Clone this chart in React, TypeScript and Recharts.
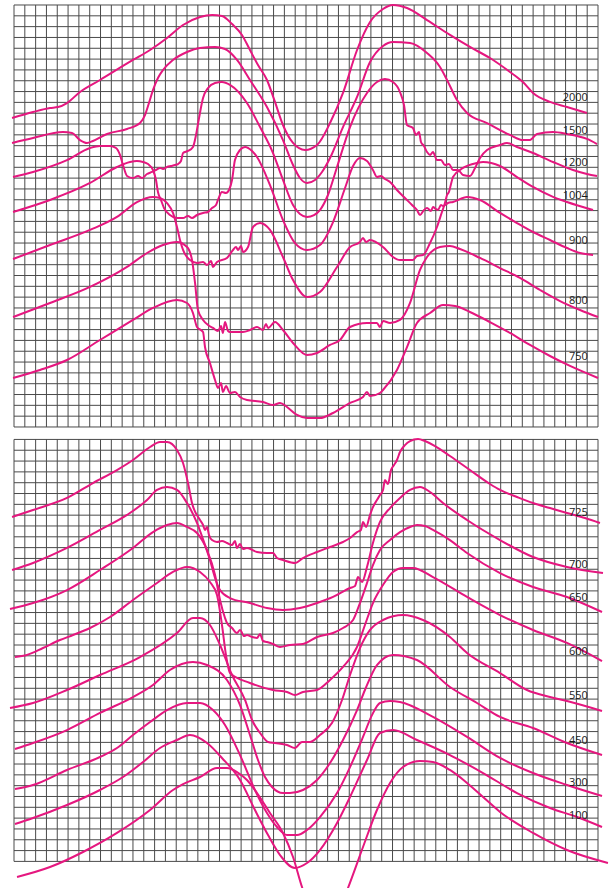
import { LineChart, Line, XAxis, YAxis, ReferenceLine, ReferenceDot } from 'recharts';

// All values are in grid units: x = columns from the left edge of the grid,
// y = rows from the top edge of the upper panel (axis reversed).
type Pt = [number, number];

const c2000: Pt[] = [[-0.18,10.44],[1.76,9.89],[3.33,9.52],[4.07,9.43],[4.9,9.06],[6.1,8.04],[7.95,6.93],[11,5.08],[12.58,4.16],[14.15,3.05],[15.63,1.85],[17.2,1.11],[18.31,0.92],[19.23,1.02],[20.16,1.76],[21.08,2.77],[21.82,4.16],[22.56,5.55],[23.39,6.93],[24.13,8.96],[24.87,11.09],[25.8,12.75],[26.91,13.4],[28.02,12.94],[29.22,10.91],[30.42,8.13],[31.72,4.16],[32.92,1.57],[34.12,0.37],[35.04,0],[36.34,0.28],[38.19,1.39],[40.31,2.77],[42.16,3.88],[44.01,4.9],[45.86,6.19],[47.06,7.12],[47.99,8.13],[49.56,8.96],[51.13,9.43],[52.98,9.98]];

const c1500: Pt[] = [[-0.18,12.75],[1.76,12.29],[4.53,11.74],[5.36,11.83],[6.1,12.48],[6.75,12.75],[7.3,12.57],[8.6,11.92],[10.45,11.46],[11.65,10.91],[12.11,10.17],[12.48,9.06],[12.85,7.86],[13.31,6.75],[13.78,6.01],[14.7,5.08],[16,4.34],[17.2,3.97],[18.59,3.88],[19.51,4.07],[20.62,5.08],[21.82,6.93],[23.39,9.43],[24.87,12.48],[25.8,14.79],[26.44,15.99],[27.09,16.45],[27.83,16.17],[28.48,15.43],[29.22,14.14],[30.42,11.28],[31.72,8.5],[32.92,5.27],[34.12,3.79],[35.04,3.42],[36.62,3.51],[38.19,4.44],[39.39,5.73],[40.04,6.93],[40.96,8.78],[41.89,9.98],[43.74,10.91],[45.86,12.01],[47.06,12.48],[47.71,12.48],[48.36,11.92],[49.84,11.74],[51.13,11.92],[52.98,12.38],[53.91,12.85]];

const c1200: Pt[] = [[-0.09,15.9],[1.76,15.43],[4.9,14.33],[7.03,13.22],[7.95,13.03],[8.88,13.03],[9.43,13.22],[9.8,13.86],[10.08,14.79],[10.45,15.8],[11,15.99],[11.47,15.8],[11.84,15.99],[12.3,15.62],[12.76,15.43],[13.13,15.25],[13.5,15.06],[13.78,15.16],[14.15,14.97],[14.52,14.88],[14.89,14.79],[15.16,14.7],[15.44,14.42],[15.63,13.68],[16.09,13.49],[16.55,13.12],[16.83,12.01],[17.11,10.44],[17.48,8.6],[17.94,7.67],[18.59,7.21],[19.23,7.12],[19.97,7.39],[21.54,9.06],[22.75,11.28],[23.95,13.68],[24.87,16.17],[25.8,18.48],[26.44,19.32],[27.09,19.59],[27.74,19.41],[28.29,18.95],[29.03,17.56],[29.87,14.97],[31.07,11.28],[32.64,8.13],[33.56,7.12],[34.3,6.84],[35.04,7.12],[35.69,8.04],[36.06,9.24],[36.34,11.09],[36.89,11.37],[37.17,12.01],[37.45,11.74],[37.63,12.66],[37.91,13.03],[38.19,13.59],[38.47,13.86],[38.74,13.59],[39.11,14.33],[39.48,14.33],[39.85,14.79],[40.22,14.7],[40.59,15.25],[41.05,15.25],[41.52,15.71],[42.16,15.8],[42.63,15.06],[43.09,14.14],[43.74,13.4],[44.94,12.94],[45.58,12.75],[46.51,13.12],[47.99,13.68],[49.84,14.51],[51.69,15.25],[52.98,15.62],[53.91,15.8]];

const c1004: Pt[] = [[-0.09,19.13],[3.33,18.02],[7.03,16.45],[9.52,14.97],[10.73,14.51],[11.37,14.42],[11.93,14.51],[12.39,14.7],[12.85,15.25],[13.13,16.17],[13.31,17.28],[13.59,18.02],[13.87,18.76],[14.42,19.41],[15.07,19.69],[15.63,19.69],[16.09,19.5],[16.46,19.69],[16.92,19.41],[17.48,19.22],[17.94,19.13],[18.31,18.76],[18.68,18.48],[18.86,18.02],[19.23,17.28],[19.6,17.38],[19.88,17.1],[20.16,16.17],[20.43,14.33],[20.9,13.4],[21.36,13.12],[22.01,13.49],[22.47,14.05],[23.67,16.64],[24.87,19.87],[25.98,22],[27.09,22.64],[28.29,22.18],[29.5,20.06],[30.61,16.91],[31.35,14.88],[31.99,14.14],[32.64,14.42],[33.19,15.25],[33.56,15.9],[33.93,15.8],[34.3,16.08],[34.77,16.36],[35.41,17.1],[36.15,17.84],[36.8,18.48],[37.26,18.95],[37.54,19.41],[37.91,18.95],[38.19,18.76],[38.56,19.04],[38.74,18.67],[39.02,18.86],[39.2,18.95],[39.48,18.48],[39.67,18.58],[40.13,18.3],[40.59,18.21],[41.89,17.74],[43.09,18.02],[44.94,19.22],[46.51,20.15],[47.99,20.98],[49.56,21.72],[51.13,22.46],[52.34,22.92],[53.54,23.11]];

const c900: Pt[] = [[-0.09,23.48],[3.33,22.18],[7.03,20.79],[9.52,19.59],[11.37,18.21],[12.85,17.74],[13.5,17.84],[14.15,18.3],[14.7,19.22],[15.07,20.52],[15.35,21.72],[15.63,22.64],[16.27,23.57],[16.92,23.84],[17.48,23.75],[17.85,24.03],[18.22,23.66],[18.4,24.21],[18.77,23.75],[19.69,23.38],[20.25,22.64],[20.53,22.37],[20.71,22.64],[20.99,22.27],[21.17,22.83],[21.64,22.37],[22.1,20.52],[22.75,20.15],[23.67,20.79],[24.87,23.29],[25.8,25.42],[27.09,26.99],[28.29,26.52],[29.87,24.21],[31.07,22.37],[31.99,21.9],[32.27,21.53],[32.55,21.9],[32.92,21.72],[34.12,22.37],[35.04,23.29],[35.69,23.57],[36.89,23.57],[37.26,23.2],[37.82,23.11],[38.47,22],[39.11,20.52],[39.57,19.13],[39.85,18.3],[40.04,17.56],[40.22,17.28],[40.41,16.54],[40.59,15.9],[41.52,15.06],[42.81,14.6],[43.37,14.51],[44.94,14.88],[46.51,15.9],[47.99,16.82],[49.84,17.74],[51.13,18.21],[53.54,18.95]];

const c800: Pt[] = [[-0.09,28.84],[3.33,27.54],[7.03,26.06],[10.45,24.21],[12.3,22.92],[13.78,22.18],[15.07,21.9],[16,22.37],[16.46,23.57],[16.74,25.69],[17.01,28.19],[17.48,29.11],[17.94,29.57],[18.4,29.85],[18.86,30.13],[19.14,29.67],[19.32,30.31],[19.51,29.3],[19.79,30.13],[19.97,30.22],[21.17,30.22],[21.82,30.04],[22.47,29.76],[23.02,30.04],[23.3,29.48],[23.49,29.85],[24.13,29.3],[24.87,30.04],[25.8,31.24],[27.09,32.35],[28.02,32.16],[29.22,31.42],[30.14,30.96],[31.07,29.76],[32.64,29.39],[33.56,29.39],[33.84,29.76],[34.12,29.2],[34.77,29.39],[35.69,29.11],[36.62,27.54],[37.54,24.49],[38.19,23.29],[39.39,22.37],[40.31,22.27],[41.24,22.55],[43.09,23.38],[44.94,24.31],[46.79,25.23],[48.64,26.34],[50.49,27.36],[52.34,28.19],[54,28.84]];

const c750: Pt[] = [[-0.09,34.47],[2.4,33.73],[4.9,32.81],[7.95,30.96],[11,29.11],[12.85,28],[15.07,27.26],[16,27.54],[16.55,28.47],[16.92,29.76],[17.48,30.22],[17.66,31.61],[18.12,33.09],[18.59,34.66],[18.86,35.4],[19.14,34.94],[19.32,35.77],[19.6,35.21],[19.97,35.86],[20.43,35.77],[20.9,36.23],[21.54,36.51],[23.02,36.69],[23.95,36.97],[24.6,36.78],[25.24,37.15],[26.17,37.89],[27.09,38.17],[28.29,38.17],[29.5,37.71],[31.07,36.78],[32.27,36.23],[32.64,35.77],[32.92,36.14],[33.84,35.86],[34.12,35.58],[35.41,33.73],[36.34,31.61],[37.26,29.39],[38.47,28.47],[39.67,27.73],[40.78,27.82],[42.16,28.37],[44.01,29.3],[45.86,30.31],[47.71,31.42],[49.56,32.44],[51.41,33.36],[54,34.47]];

const c725: Pt[] = [[-0.18,47.32],[1.76,46.67],[4.9,45.56],[7.3,44.18],[9.52,42.98],[11,42.05],[12.58,40.85],[13.5,40.39],[14.15,40.39],[15.07,41.13],[15.63,42.33],[16.09,44.18],[16.46,46.03],[17.2,47.6],[17.48,48.06],[17.66,48.52],[17.85,48.24],[18.03,48.98],[18.31,49.45],[18.77,49.63],[19.23,49.54],[19.69,49.72],[20.16,49.91],[20.43,49.54],[20.62,50.18],[20.9,49.82],[21.17,50.28],[21.54,50.18],[22.47,50.55],[23.39,50.65],[23.95,50.65],[24.32,51.11],[24.87,51.29],[25.98,51.57],[26.72,51.11],[28.02,50.55],[29.22,50.09],[30.42,49.63],[31.07,49.26],[31.72,48.71],[32.08,48.52],[32.27,47.78],[32.55,48.24],[32.92,47.13],[33.19,46.4],[33.56,45.75],[33.84,45.29],[34.12,44.82],[34.3,43.9],[34.58,44.27],[34.86,42.98],[35.14,42.51],[35.41,42.05],[35.69,41.31],[36.15,40.67],[36.62,40.3],[37.36,40.11],[38,40.3],[38.93,40.76],[40.31,41.68],[42.16,42.98],[44.01,44.27],[44.94,44.82],[46.51,45.47],[47.99,46.03],[49.56,46.49],[51.13,46.95],[52.8,47.41],[54.18,47.87]];

const c700: Pt[] = [[-0.18,52.22],[1.76,51.57],[4.9,50.18],[7.95,48.52],[10.45,47.13],[12.3,45.75],[13.22,44.82],[14.15,44.55],[15.07,44.82],[16,46.03],[16.92,47.87],[17.66,49.91],[18.12,51.29],[18.59,52.96],[19.05,54.07],[19.97,54.81],[21.82,55.27],[23.39,55.73],[24.87,55.91],[26.44,55.73],[28.02,55.27],[29.5,54.71],[31.07,53.88],[31.53,53.7],[31.81,52.87],[32.18,53.33],[32.64,51.94],[33.19,49.72],[33.84,47.78],[34.77,46.49],[35.69,45.56],[36.62,44.82],[37.54,44.55],[38.47,45.01],[39.67,46.03],[41.89,47.6],[44.94,49.45],[47.99,51.02],[51.13,51.94],[54.46,52.5]];

const c650: Pt[] = [[-0.37,55.82],[1.76,55.27],[4.9,54.07],[7.95,52.22],[11,50.18],[12.85,48.71],[14.15,48.06],[15.07,47.87],[16,48.24],[16.92,48.8],[17.85,50.37],[18.59,52.68],[19.05,54.99],[19.51,56.65],[19.69,57.12],[20.16,57.58],[20.62,58.04],[20.9,57.76],[21.27,58.32],[21.54,58.23],[22.01,58.41],[22.47,58.5],[22.75,58.13],[23.02,58.78],[23.39,58.87],[23.95,59.06],[24.6,59.33],[25.52,59.15],[26.72,59.06],[28.02,58.41],[29.5,58.04],[30.42,57.58],[31.35,56.84],[31.99,55.27],[32.64,53.42],[33.19,51.76],[33.84,50.37],[34.77,49.45],[35.69,48.71],[36.62,48.24],[37.26,48.06],[38,48.15],[38.74,48.52],[40.31,49.45],[41.89,50.65],[44.94,52.5],[47.99,53.79],[51.13,54.71],[54.37,56.1]];

const c600: Pt[] = [[0.09,60.26],[1.2,60.07],[2.68,59.43],[4.25,58.69],[5.46,58.23],[7.03,57.58],[8.88,56.56],[11,54.99],[13.22,53.42],[14.7,52.4],[16,51.94],[17.2,52.4],[18.12,53.33],[18.77,54.53],[19.23,57.3],[19.6,60.07],[19.97,61.74],[21.82,62.66],[23.95,63.31],[25.24,63.49],[25.98,63.77],[26.72,63.49],[28.02,63.31],[29.22,62.38],[30.42,61.18],[31.72,59.33],[32.45,57.3],[33.19,55.27],[34.12,53.6],[35.04,52.4],[35.97,52.03],[36.89,52.03],[38.74,52.87],[41.89,54.71],[44.94,56.38],[47.99,57.76],[51.13,58.96],[54.37,60.63]];

const c550: Pt[] = [[-0.37,64.97],[1.76,64.51],[4.9,63.31],[7.95,61.92],[11.65,60.26],[15.07,58.04],[16.55,56.65],[17.2,56.65],[18.12,57.3],[19.05,59.15],[20.16,61.92],[21.36,64.23],[22.01,66.08],[22.75,67.28],[23.49,68.11],[24.13,68.21],[25.24,68.39],[25.98,68.67],[26.63,68.11],[27.37,68.11],[28.29,67.47],[29.4,66.36],[30.33,64.23],[31.07,61.92],[31.99,59.43],[32.92,57.76],[34.12,56.84],[35.97,56.38],[37.82,56.84],[40.31,58.41],[41.89,59.89],[44.94,61.74],[47.43,63.31],[49.56,63.96],[51.13,64.33],[54.37,65.25]];

const c450: Pt[] = [[0.09,68.76],[1.76,68.21],[4.9,67.01],[7.95,65.43],[11,63.96],[12.85,62.85],[14.42,61.46],[16.55,60.72],[17.85,61],[19.69,62.38],[20.9,64.7],[21.82,67.47],[22.56,69.78],[23.21,71.35],[23.86,72.27],[24.87,72.83],[25.52,72.83],[26.72,72.55],[28.02,71.63],[29.22,70.06],[30.42,67.93],[31.72,65.16],[32.45,63.31],[33.56,61],[35.04,60.07],[37.26,60.54],[40.31,63.03],[42.81,64.51],[44.94,65.8],[47.99,66.82],[51.13,68.21],[54.37,69.32]];

const c300: Pt[] = [[0.09,72.46],[1.76,72.09],[4.9,70.7],[7.95,69.5],[9.52,68.67],[11,67.47],[12.58,66.27],[14.15,65.16],[16,64.51],[17.2,64.51],[18.4,65.16],[19.51,66.54],[20.9,69.32],[22.28,72.55],[23.39,74.68],[24.32,75.97],[25.24,76.71],[26.17,76.71],[27.09,76.25],[28.29,75.05],[29.87,72.83],[31.07,70.43],[32.27,67.65],[33.1,65.63],[33.84,64.51],[34.77,64.33],[35.69,64.42],[38.74,65.8],[41.89,67.65],[44.94,69.59],[47.99,70.98],[51.13,72.09],[54.37,73.11]];

const c100: Pt[] = [[0.09,75.69],[1.76,75.14],[4.9,73.94],[7.95,72.55],[10.08,71.35],[11.93,69.96],[13.5,68.67],[15.07,67.93],[16.27,67.47],[17.85,68.21],[19.23,69.59],[20.9,71.63],[22.28,74.4],[23.49,76.71],[24.6,78.56],[25.98,79.76],[27.09,79.3],[28.29,78.1],[29.87,75.6],[31.07,73.2],[32.64,69.78],[33.84,67.28],[35.04,67.01],[37.26,67.93],[40.31,69.32],[43.37,70.98],[46.51,72.83],[49.56,74.21],[52.06,75.05],[54.37,75.97]];

const cLast: Pt[] = [[0.28,80.59],[3.33,79.67],[6.38,78.28],[9.52,76.52],[12.58,74.4],[14.7,72.55],[15.63,72],[17.2,71.35],[18.77,70.52],[19.69,70.52],[20.62,70.89],[21.54,71.63],[22.47,72.83],[23.67,74.68],[24.87,76.52],[25.8,78.74],[26.63,81.52],[27.83,84.57],[28.76,85.49],[29.68,84.57],[30.88,81.61],[32.27,77.82],[33.56,74.4],[34.77,71.9],[35.97,70.43],[37.54,69.87],[38.74,69.96],[40.31,70.7],[41.89,71.9],[43.37,73.2],[44.94,74.58],[47.99,76.52],[51.13,78.1],[54.92,79.3]];

const curves: Pt[][] = [c2000, c1500, c1200, c1004, c900, c800, c750, c725, c700, c650, c600, c550, c450, c300, c100, cLast];

// curve labels and the row they sit on
const labelTexts = ['2000', '1500', '1200', '1004', '900', '800', '750', '725', '700', '650', '600', '550', '450', '300', '100'];
const labelRows = [8.5, 11.55, 14.51, 17.56, 21.63, 27.26, 32.35, 46.77, 51.66, 54.71, 59.7, 63.68, 67.84, 71.81, 74.86];

const W = 611;
const H = 888;
const COLS = 54;
const ROWS = 39;
const PANEL_TOPS = [0, 40.15];
const X_DOMAIN: [number, number] = [-1.2945, 55.2011];
const Y_DOMAIN: [number, number] = [-0.4621, 81.608];
const LABEL_X = 53.06;
const MAGENTA = '#e5177f';
const GRID = '#4a4a4a';

const gridLines: { key: string; seg: [{ x: number; y: number }, { x: number; y: number }] }[] = [];
PANEL_TOPS.forEach((top, p) => {
  for (let i = 0; i <= COLS; i++) {
    gridLines.push({ key: `v${p}-${i}`, seg: [{ x: i, y: top }, { x: i, y: top + ROWS }] });
  }
  for (let j = 0; j <= ROWS; j++) {
    gridLines.push({ key: `h${p}-${j}`, seg: [{ x: 0, y: top + j }, { x: COLS, y: top + j }] });
  }
});

export default function App() {
  return (
    <div style={{ position: 'absolute', left: 0, top: 0, width: W, height: H, background: '#fff' }}>
      <LineChart width={W} height={H} margin={{ top: 0, right: 0, bottom: 0, left: 0 }}>
        <XAxis type="number" dataKey="x" domain={X_DOMAIN} allowDataOverflow hide />
        <YAxis type="number" dataKey="y" domain={Y_DOMAIN} allowDataOverflow reversed hide />

        {gridLines.map((g) => (
          <ReferenceLine key={g.key} segment={g.seg} stroke={GRID} strokeWidth={1} ifOverflow="visible" />
        ))}

        {curves.map((pts, i) => (
          <Line
            key={i}
            data={pts.map(([x, y]) => ({ x, y }))}
            dataKey="y"
            type="monotone"
            stroke={MAGENTA}
            strokeWidth={2}
            dot={false}
            activeDot={false}
            isAnimationActive={false}
          />
        ))}

        {labelTexts.map((t, i) => (
          <ReferenceDot
            key={t}
            x={LABEL_X}
            y={labelRows[i]}
            r={0}
            ifOverflow="visible"
            shape={(p: any) => (
              <text
                x={p.cx}
                y={p.cy}
                textAnchor="end"
                dominantBaseline="central"
                fontFamily="'Open Sans', 'Liberation Sans', sans-serif"
                fontSize={11}
                fill="#1a1a1a"
              >
                {t}
              </text>
            )}
          />
        ))}
      </LineChart>
    </div>
  );
}
